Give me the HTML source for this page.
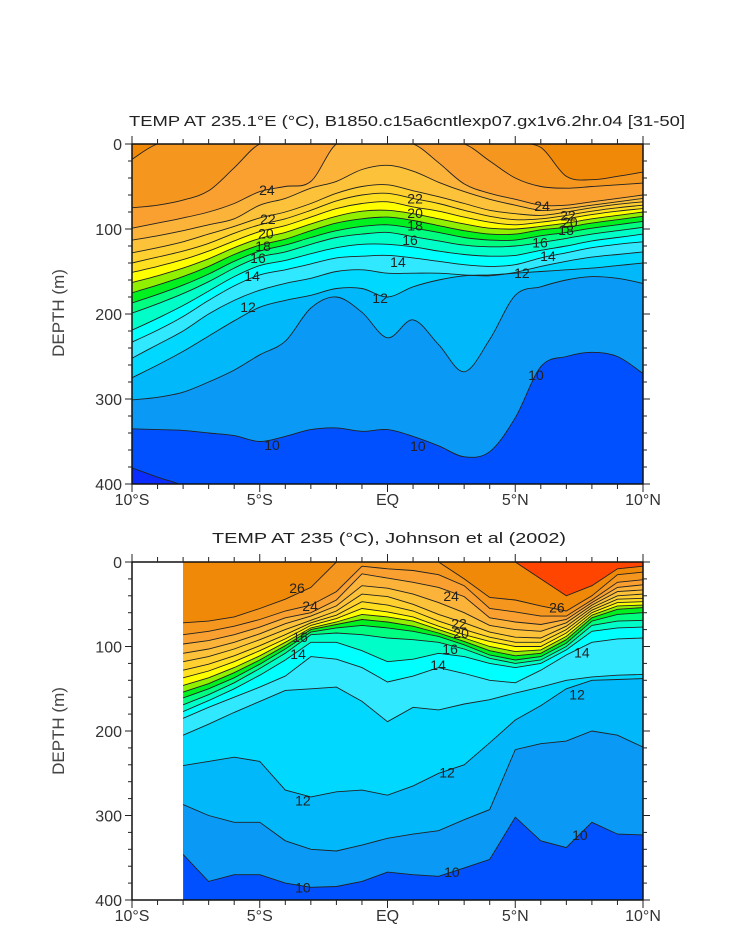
<!DOCTYPE html>
<html><head><meta charset="utf-8"><style>
html,body{margin:0;padding:0;background:#fff;}
svg{display:block;font-family:"Liberation Sans",sans-serif;}
</style></head><body>
<svg id="chart" width="733" height="945" viewBox="0 0 733 945" xmlns="http://www.w3.org/2000/svg">
<defs>
<clipPath id="clipTop"><rect x="132" y="144" width="511" height="340"/></clipPath>
<clipPath id="clipBot"><rect x="183" y="562" width="460" height="338"/></clipPath>
</defs>
<g id="topPanel"></g>
<g id="botPanel"></g>
<text x="407" y="126" font-size="15" text-anchor="middle" fill="#222" textLength="556" lengthAdjust="spacingAndGlyphs">TEMP AT 235.1°E (°C), B1850.c15a6cntlexp07.gx1v6.2hr.04 [31-50]</text>
<text x="389" y="543" font-size="15" text-anchor="middle" fill="#222" textLength="354" lengthAdjust="spacingAndGlyphs">TEMP AT 235 (°C), Johnson et al (2002)</text>
<text x="0" y="0" font-size="17" text-anchor="middle" fill="#444" transform="translate(64,313) rotate(-90)">DEPTH (m)</text>
<text x="0" y="0" font-size="17" text-anchor="middle" fill="#444" transform="translate(64,731) rotate(-90)">DEPTH (m)</text>
</svg>
<script>
// ---------- data ----------
const topLats = [-10,-9,-8,-7,-6,-5,-4,-3,-2,-1,0,1,2,3,4,5,6,7,8,9,10];
const topLevels = [26,25,24,23,22,21,20,19,18,17,16,15,14,13,12,11,10,9];
const topIso26 = [18,0,0,0,0,0,0,0,0,0,0,0,0,0,0,0,4,38,42,38,33];
const topIso25 = [75,72,66,55,28,0,0,0,0,0,0,0,0,0,20,40,50,52,50,48,46];
const topIso24 = [99,93,87,80,70,56,50,44,0,0,0,0,22,47,58,65,72,72,68,64,60];
const topIso23 = [113,108,102,95,88,72,64,52,44,30,25,32,45,56,65,72,78,76,72,68,64];
const topIso22 = [128,122,115,106,97,87,80,70,58,50,48,55,62,70,78,82,84,80,75,71,68];
const topIso21 = [140,133,126,117,105,95,88,78,67,60,58,64,70,78,85,89,88,84,79,75,72];
const topIso20 = [151,144,136,126,114,103,96,86,76,70,68,74,79,86,92,95,92,88,83,79,76];
const topIso19 = [163,155,146,135,122,111,104,94,85,79,78,82,88,94,99,100,97,93,88,84,80];
const topIso18 = [175,166,156,144,130,119,112,102,93,88,86,90,96,102,106,106,101,98,93,89,85];
const topIso17 = [187,177,166,153,138,126,119,110,102,97,95,99,104,110,113,113,108,104,99,95,91];
const topIso16 = [199,188,176,162,146,133,127,118,110,106,104,109,114,119,121,120,116,111,106,102,98];
const topIso15 = [219,205,190,173,156,143,137,129,122,118,118,121,126,130,132,131,125,120,114,110,106];
const topIso14 = [233,219,203,184,167,154,148,141,134,132,131,134,138,142,144,142,134,128,122,118,115];
const topIso13 = [252,236,220,200,184,172,164,158,150,148,152,152,152,154,155,151,144,138,133,130,127];
const topIso12 = [275,260,244,226,208,192,184,178,170,170,180,168,160,155,154,152,150,148,146,143,140];
const topIso11 = [301,298,292,280,266,248,232,193,180,198,228,207,236,268,230,178,168,160,156,158,164];
const topIso10 = [335,336,337,340,343,350,344,336,334,338,336,344,355,368,362,322,262,250,245,250,270];
const topIso9  = [381,392,402,420,450,450,450,450,450,450,450,450,450,450,450,450,450,450,450,450,450];

const botLats = [-8,-7,-6,-5,-4,-3,-2,-1,0,1,2,3,4,5,6,7,8,9,10];
const botLevels = [27,26,25,24,23,22,21,20,19,18,17,16,15,14,13,12,11,10];
const botIso27 = [0,0,0,0,0,0,0,0,0,0,0,0,0,0,20,40,28,8,5];
const botIso26 = [72,70,65,55,44,30,0,0,0,0,0,20,42,45,52,58,40,15,12];
const botIso25 = [86,82,76,68,58,51,35,5,8,10,15,28,55,59,64,64,45,24,21];
const botIso24 = [97,93,86,77,66,60,45,14,19,24,30,41,66,71,74,68,48,30,27];
const botIso23 = [108,103,95,85,73,64,52,28,31,38,48,60,75,80,82,72,51,35,33];
const botIso22 = [118,112,103,92,80,69,58,38,41,50,62,72,83,89,90,76,54,40,38];
const botIso21 = [128,121,111,99,86,72,63,47,51,58,70,80,89,95,95,80,57,44,43];
const botIso20 = [137,129,118,105,91,75,67,55,59,65,76,86,94,100,100,84,60,48,47];
const botIso19 = [146,137,125,111,95,78,71,62,65,70,80,90,100,106,104,88,63,52,51];
const botIso18 = [154,144,131,116,99,80,74,68,71,76,84,94,105,111,108,92,66,56,54];
const botIso17 = [161,150,137,121,103,83,78,75,78,82,88,98,110,116,112,96,70,62,60];
const botIso16 = [169,157,143,126,108,86,84,86,90,92,95,103,114,120,116,100,75,70,69];
const botIso15 = [177,164,150,134,116,95,95,105,118,115,108,112,120,125,120,104,82,78,77];
const botIso14 = [185,172,160,148,135,112,115,125,142,135,125,132,140,143,128,110,95,91,90];
const botIso13 = [205,192,178,165,152,150,148,165,189,172,175,168,163,155,148,140,136,134,133];
const botIso12 = [241,236,231,236,270,278,272,270,276,265,250,240,214,187,170,150,140,139,138];
const botIso11 = [287,300,308,308,330,340,342,335,327,322,318,305,293,222,215,212,200,205,219];
const botIso10 = [346,378,370,370,380,385,384,378,367,370,372,362,352,302,330,338,308,322,323];

const depthTicks = [0,100,200,300,400];
const latTicks = [-10,-5,0,5,10];
const latTickLabels = ["10°S","5°S","EQ","5°N","10°N"];

const topLabelText = ["24","22","20","18","16","14","12","22","20","18","16","14","12","24","22","20","18","16","14","12","10","10","10"];
const topLabelLat = [-4.72,-4.68,-4.76,-4.87,-5.07,-5.3,-5.46,1.08,1.08,1.08,0.88,0.41,-0.29,6.05,7.06,7.14,6.99,5.97,6.28,5.26,-4.52,1.19,5.81];
const topLabelDep = [54,88,105,120,134,155,192,64,81,96,113,139,181,73,84,92,101,116,132,152,354,355,272];
const botLabelText = ["26","24","16","14","12","10","24","22","20","16","14","26","14","12","12","10","10"];
const botLabelLat = [-3.54,-3.03,-3.42,-3.5,-3.31,-3.31,2.49,2.8,2.88,2.45,1.98,6.63,7.61,7.42,2.33,2.52,7.53];
const botLabelDep = [31,52,89,109,282,385,40,73,84,103,122,54,107,157,249,367,323];

// ---------- helpers ----------
const NS = "http://www.w3.org/2000/svg";
const colorOf = {8:"#0a2cff",9:"#0050ff",10:"#0a9af5",11:"#00b8fa",12:"#00d8ff",13:"#30e8ff",14:"#00ffff",15:"#00ffc8",16:"#00ff80",17:"#00f020",18:"#90f000",19:"#ffff00",20:"#ffe020",21:"#ffd030",22:"#fcc23a",23:"#fbb33a",24:"#f9a030",25:"#f5961e",26:"#f08808",27:"#ff4500"};
const X0 = 132, X1 = 643;
function xScale(lat){ return X0 + (lat + 10) / 20 * (X1 - X0); }
function yTop(d){ return 144 + d / 400 * 340; }
function yBot(d){ return 562 + d / 400 * 338; }
function mk(tag, attrs, parent){
  const e = document.createElementNS(NS, tag);
  for (const k in attrs) e.setAttribute(k, attrs[k]);
  parent.appendChild(e);
  return e;
}
function smoothD(pts){
  let s = "M" + pts[0][0].toFixed(1) + "," + pts[0][1].toFixed(1);
  for (let i = 0; i < pts.length - 1; i++){
    const p0 = pts[Math.max(0,i-1)], p1 = pts[i], p2 = pts[i+1], p3 = pts[Math.min(pts.length-1,i+2)];
    const c1 = [p1[0] + (p2[0]-p0[0])/6, p1[1] + (p2[1]-p0[1])/6];
    const c2 = [p2[0] - (p3[0]-p1[0])/6, p2[1] - (p3[1]-p1[1])/6];
    s += " C" + c1[0].toFixed(1) + "," + c1[1].toFixed(1) + " " + c2[0].toFixed(1) + "," + c2[1].toFixed(1) + " " + p2[0].toFixed(1) + "," + p2[1].toFixed(1);
  }
  return s;
}
function linearD(pts){
  return pts.map((p,i)=>(i?"L":"M")+p[0].toFixed(1)+","+p[1].toFixed(1)).join(" ");
}
function drawPanel(g, lats, levels, isos, yS, clipId, smooth, xStart, yTopPix, yBotPix, minColor){
  const area = mk("g", {"clip-path":"url(#"+clipId+")"}, g);
  
  
  const bg = mk("rect", {x:xStart, y:yTopPix, width:X1-xStart, height:yBotPix-yTopPix, fill:colorOf[minColor]}, area);
  
  
  const pathFn = smooth ? smoothD : linearD;
  // fill from coldest level to warmest
  for (let k = levels.length - 1; k >= 0; k--){
    const lev = levels[k];
    const pts = lats.map((la,i)=>[xScale(la), yS(Math.max(-4, Math.min(420, isos[k][i])))]);
    const dCurve = pathFn(pts);
    const first = pts[0], last = pts[pts.length-1];
    const dFill = "M" + first[0] + "," + (yTopPix-10) + " L" + dCurve.slice(1) + " L" + last[0] + "," + (yTopPix-10) + " Z";
    const band = mk("path", {d:dFill, fill:colorOf[lev]}, area);
    
    
  }
  for (let k = 0; k < levels.length; k++){
    const pts = lats.map((la,i)=>[xScale(la), yS(Math.max(-4, Math.min(420, isos[k][i])))]);
    const ln = mk("path", {d:pathFn(pts), fill:"none", stroke:"#222", "stroke-width":"0.9"}, area);
    
    
  }
}
function drawAxes(g, yS, yTopPix, yBotPix){
  const frame = mk("rect", {x:X0, y:yTopPix, width:X1-X0, height:yBotPix-yTopPix, fill:"none", stroke:"#111", "stroke-width":"1.5"}, g);
  
  
  for (let d = 0; d <= 400; d += 20){
    const y = yS(d), major = d % 100 === 0, L = major ? 7 : 4;
    const t1 = mk("line", {x1:X0-L, x2:X0, y1:y, y2:y, stroke:"#222", "stroke-width":"1"}, g);
    
    
    const t2 = mk("line", {x1:X1, x2:X1+L, y1:y, y2:y, stroke:"#222", "stroke-width":"1"}, g);
    
    
  }
  depthTicks.forEach(d=>{
    const t = mk("text", {x:122, y:yS(d)+6, "font-size":"16", "text-anchor":"end", fill:"#333"}, g);
    t.textContent = d;
    
    
  });
  for (let la = -10; la <= 10; la++){
    const x = xScale(la), major = la % 5 === 0, L = major ? 8 : 5;
    const b = mk("line", {x1:x, x2:x, y1:yBotPix, y2:yBotPix+L, stroke:"#222", "stroke-width":"1"}, g);
    
    
    const t = mk("line", {x1:x, x2:x, y1:yTopPix-L, y2:yTopPix, stroke:"#222", "stroke-width":"1"}, g);
    
    
  }
  latTicks.forEach((la,i)=>{
    const t = mk("text", {x:xScale(la), y:yBotPix+21, "font-size":"16", "text-anchor":"middle", fill:"#333"}, g);
    t.textContent = latTickLabels[i];
    
    
  });
}
function drawLabels(g, texts, lats, deps, yS, clipId){
  const lg = mk("g", {"clip-path":"url(#"+clipId+")"}, g);
  
  
  texts.forEach((s,i)=>{
    const t = mk("text", {x:xScale(lats[i]), y:yS(deps[i])+5, "font-size":"14", "text-anchor":"middle", fill:"#222"}, lg);
    t.textContent = s;
    
    
  });
}

// ---------- draw ----------
const topG = document.getElementById("topPanel");
const topIsos = [topIso26,topIso25,topIso24,topIso23,topIso22,topIso21,topIso20,topIso19,topIso18,topIso17,topIso16,topIso15,topIso14,topIso13,topIso12,topIso11,topIso10,topIso9];
drawPanel(topG, topLats, topLevels, topIsos, yTop, "clipTop", true, X0, 144, 484, 8);
drawLabels(topG, topLabelText, topLabelLat, topLabelDep, yTop, "clipTop");
drawAxes(topG, yTop, 144, 484);

const botG = document.getElementById("botPanel");
const botIsos = [botIso27,botIso26,botIso25,botIso24,botIso23,botIso22,botIso21,botIso20,botIso19,botIso18,botIso17,botIso16,botIso15,botIso14,botIso13,botIso12,botIso11,botIso10];
drawPanel(botG, botLats, botLevels, botIsos, yBot, "clipBot", false, xScale(-8), 562, 900, 9);
drawLabels(botG, botLabelText, botLabelLat, botLabelDep, yBot, "clipBot");
drawAxes(botG, yBot, 562, 900);
</script>
</body></html>
